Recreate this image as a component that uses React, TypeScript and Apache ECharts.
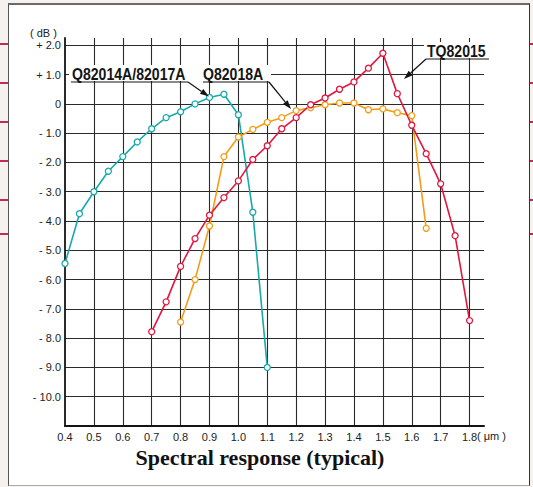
import React, { useEffect, useRef } from 'react';
import * as echarts from 'echarts';

// Wavelength (µm) and relative sensitivity (dB)
const tealWavelengths = [0.40, 0.45, 0.50, 0.55, 0.60, 0.65, 0.70, 0.75, 0.80, 0.85, 0.90, 0.95, 1.00, 1.05, 1.10];
const tealDb = [-5.45, -3.75, -3.0, -2.3, -1.8, -1.3, -0.85, -0.47, -0.27, 0.0, 0.22, 0.33, -0.37, -3.7, -9.0];

const orangeWavelengths = [0.80, 0.85, 0.90, 0.95, 1.00, 1.05, 1.10, 1.15, 1.20, 1.25, 1.30, 1.35, 1.40, 1.45, 1.50, 1.55, 1.60, 1.65];
const orangeDb = [-7.45, -6.0, -4.17, -1.8, -1.13, -0.87, -0.63, -0.47, -0.23, -0.13, -0.03, 0.03, 0.03, -0.2, -0.17, -0.3, -0.4, -4.25];

const redWavelengths = [0.70, 0.75, 0.80, 0.85, 0.90, 0.95, 1.00, 1.05, 1.10, 1.15, 1.20, 1.25, 1.30, 1.35, 1.40, 1.45, 1.50, 1.55, 1.60, 1.65, 1.70, 1.75, 1.80];
const redDb = [-7.78, -6.76, -5.55, -4.6, -3.8, -3.2, -2.63, -1.9, -1.43, -0.85, -0.47, -0.03, 0.2, 0.5, 0.75, 1.22, 1.73, 0.35, -0.73, -1.7, -2.73, -4.5, -7.4];

const seriesNames = ['Q82014A/82017A', 'Q82018A', 'TQ82015'];
const xUnit = '( μm )';
const yUnit = '( dB )';
const chartTitle = 'Spectral response (typical)';

const TEAL = '#18a9ab';
const ORANGE = '#f49c16';
const RED = '#e2163f';
const INK = '#141414';

function pairs(xs: number[], ys: number[]) {
  return xs.map((x, i) => [x, ys[i]]);
}

function arrow(x1: number, y1: number, x2: number, y2: number) {
  const dx = x2 - x1;
  const dy = y2 - y1;
  const len = Math.hypot(dx, dy);
  const ux = dx / len;
  const uy = dy / len;
  const hl = 9;
  const hw = 3;
  const bx = x2 - ux * hl;
  const by = y2 - uy * hl;
  return [
    { type: 'line', z: 20, shape: { x1, y1, x2: bx, y2: by }, style: { stroke: INK, lineWidth: 1.2 } },
    {
      type: 'polygon',
      z: 20,
      shape: { points: [[x2, y2], [bx - uy * hw, by + ux * hw], [bx + uy * hw, by - ux * hw]] },
      style: { fill: INK },
    },
  ];
}

function label(text: string, x: number, y: number) {
  return {
    type: 'text',
    z: 21,
    x,
    y,
    scaleX: 0.88,
    style: {
      text,
      fill: INK,
      fontFamily: 'Liberation Sans',
      fontWeight: 'bold',
      fontSize: 16,
      textAlign: 'left',
      textVerticalAlign: 'middle',
    },
  };
}

function uline(x1: number, x2: number, y: number) {
  return { type: 'line', z: 20, shape: { x1, y1: y, x2, y2: y }, style: { stroke: INK, lineWidth: 1.2 } };
}

export default function App() {
  const ref = useRef<HTMLDivElement>(null);

  useEffect(() => {
    if (!ref.current) return;
    const chart = echarts.init(ref.current, undefined, { renderer: 'svg' });

    const lineSeries = (name: string, color: string, data: number[][]) => ({
      name,
      type: 'line',
      data,
      symbol: 'circle',
      symbolSize: 6,
      showSymbol: true,
      lineStyle: { color, width: 1.6 },
      itemStyle: { color: '#ffffff', borderColor: color, borderWidth: 1.3 },
      z: 5,
    });

    const axisText = { fontFamily: 'Liberation Sans', fontSize: 11, color: '#222' };

    chart.setOption({
      animation: false,
      backgroundColor: 'transparent',
      grid: { left: 65, right: 49, top: 38, bottom: 61, containLabel: false },
      xAxis: {
        type: 'value',
        min: 0.4,
        max: 1.85,
        interval: 0.1,
        axisLine: { show: true, onZero: false, lineStyle: { color: INK, width: 2 } },
        axisTick: { show: false },
        splitLine: { show: true, showMinLine: false, showMaxLine: false, lineStyle: { color: '#2a2a2a', width: 1.1 } },
        axisLabel: {
          ...axisText,
          margin: 5,
          showMaxLabel: false,
          formatter: (v: number) => (v > 1.81 ? '' : v.toFixed(1)),
        },
      },
      yAxis: {
        type: 'value',
        min: -11,
        max: 2.25,
        interval: 1,
        axisLine: { show: true, onZero: false, lineStyle: { color: INK, width: 1.8 } },
        axisTick: { show: false },
        splitLine: { show: true, showMinLine: false, showMaxLine: false, lineStyle: { color: '#2a2a2a', width: 1.1 } },
        axisLabel: {
          ...axisText,
          margin: 4,
          showMaxLabel: false,
          showMinLabel: false,
          formatter: (v: number) => {
            if (v > 2.1 || v < -10.5) return '';
            if (v === 0) return '0';
            return (v > 0 ? '+ ' : '- ') + Math.abs(v).toFixed(1);
          },
        },
      },
      series: [
        lineSeries(seriesNames[0], TEAL, pairs(tealWavelengths, tealDb)),
        lineSeries(seriesNames[1], ORANGE, pairs(orangeWavelengths, orangeDb)),
        lineSeries(seriesNames[2], RED, pairs(redWavelengths, redDb)),
      ],
      graphic: [
        // white boxes behind the annotation labels
        { type: 'rect', z: 19, shape: { x: 69, y: 65, width: 202, height: 16 }, style: { fill: '#fff' } },
        { type: 'rect', z: 19, shape: { x: 424, y: 42, width: 66, height: 16 }, style: { fill: '#fff' } },
        label(seriesNames[0], 72, 74),
        uline(71, 188, 82),
        ...arrow(188, 82, 209, 96.5),
        label(seriesNames[1], 203, 74),
        uline(203, 269, 82),
        ...arrow(269, 82, 291, 109),
        label(seriesNames[2], 427, 51),
        uline(426, 489, 59),
        ...arrow(426, 59, 404, 79),
        {
          type: 'text',
          z: 21,
          x: 30,
          y: 33,
          style: { text: yUnit, fill: '#222', fontFamily: 'Liberation Sans', fontSize: 11, textAlign: 'left', textVerticalAlign: 'middle' },
        },
        {
          type: 'text',
          z: 21,
          x: 477,
          y: 436,
          style: { text: xUnit, fill: '#222', fontFamily: 'Liberation Sans', fontSize: 11, textAlign: 'left', textVerticalAlign: 'middle' },
        },
        {
          type: 'text',
          z: 21,
          x: 260,
          y: 457,
          style: {
            text: chartTitle,
            fill: '#111',
            fontFamily: 'Liberation Serif',
            fontWeight: 'bold',
            fontSize: 22,
            textAlign: 'center',
            textVerticalAlign: 'middle',
          },
        },
      ],
    });

    return () => chart.dispose();
  }, []);

  const tickYs = [43, 82, 121, 160, 199, 233];

  return (
    <div style={{ position: 'fixed', left: 0, top: 0, width: 533, height: 487, background: '#f4f1ee', overflow: 'hidden' }}>
      <div
        style={{
          position: 'absolute',
          left: 8,
          top: 3,
          width: 522,
          height: 483,
          boxSizing: 'border-box',
          background: '#ffffff',
          borderLeft: '1px solid #555',
          borderTop: '2px solid #6a6a6a',
          borderRight: '1px solid #333',
          borderBottom: '1px solid #aaa',
        }}
      />
      {tickYs.map((y) => (
        <div key={'l' + y} style={{ position: 'absolute', left: 0, top: y, width: 8, height: 1.5, background: '#c4285c' }} />
      ))}
      {tickYs.map((y) => (
        <div key={'r' + y} style={{ position: 'absolute', left: 530, top: y, width: 3, height: 1.5, background: '#c4285c' }} />
      ))}
      <div ref={ref} style={{ position: 'absolute', left: 0, top: 0, width: 533, height: 487 }} />
    </div>
  );
}
